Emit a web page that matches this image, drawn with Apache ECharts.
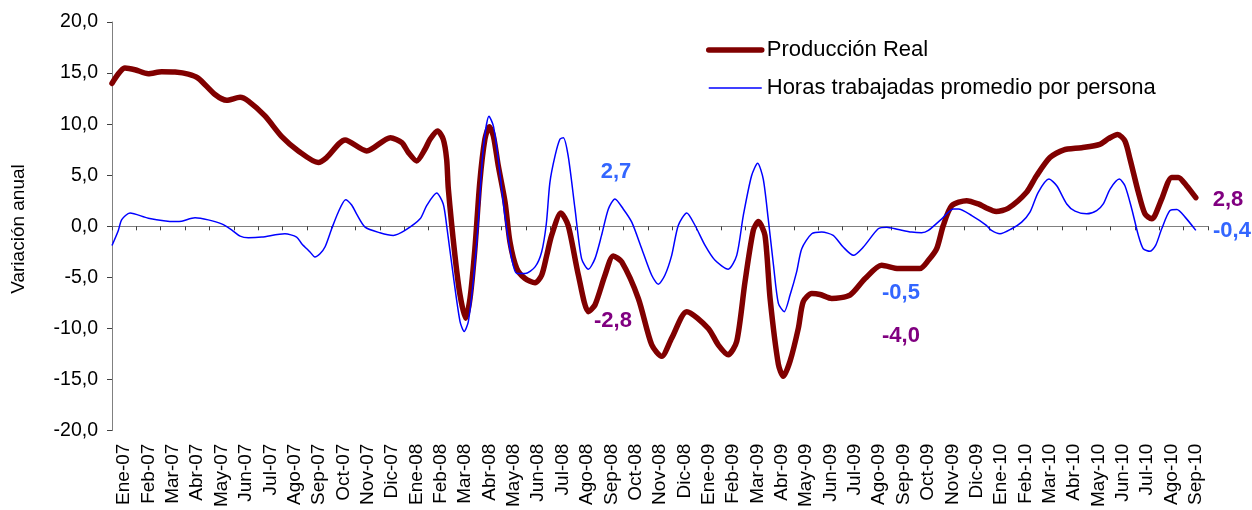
<!DOCTYPE html>
<html>
<head>
<meta charset="utf-8">
<script src="https://cdn.jsdelivr.net/npm/echarts@6/dist/echarts.min.js"></script>
<style>html,body{margin:0;padding:0;background:#fff}#c{width:1252px;height:510px}</style>
</head>
<body>
<div id="c"></div>
<script>
// Month categories (x-axis tick labels)
var months = ['Ene-07','Feb-07','Mar-07','Abr-07','May-07','Jun-07','Jul-07','Ago-07','Sep-07','Oct-07','Nov-07','Dic-07',
  'Ene-08','Feb-08','Mar-08','Abr-08','May-08','Jun-08','Jul-08','Ago-08','Sep-08','Oct-08','Nov-08','Dic-08',
  'Ene-09','Feb-09','Mar-09','Abr-09','May-09','Jun-09','Jul-09','Ago-09','Sep-09','Oct-09','Nov-09','Dic-09',
  'Ene-10','Feb-10','Mar-10','Abr-10','May-10','Jun-10','Jul-10','Ago-10','Sep-10'];

// Producción Real: time position (in months from Ene-07 start) and annual variation
var realT = [0,0.53,0.94,1.49,2.04,2.59,3.13,3.54,4.23,4.71,5.26,5.6,6.28,6.97,7.65,8.47,8.8,9.57,10.46,11.43,11.9,12.17,12.51,12.85,13.06,13.37,13.6,13.74,13.81,14.08,14.29,14.52,14.7,14.9,15.1,15.31,15.49,15.66,15.86,16.14,16.34,16.62,16.96,17.37,17.64,17.85,18.05,18.43,18.73,19.15,19.56,19.83,20.24,20.58,20.93,21.61,22.16,22.57,22.98,23.6,24.48,24.89,25.3,25.65,25.99,26.33,26.54,26.81,27.02,27.36,27.56,27.84,28.18,28.38,28.73,29.07,29.55,30.3,30.92,31.6,32.29,33.17,33.52,33.86,34.13,34.48,35.09,35.57,35.9,36.3,36.8,37.55,37.96,38.51,39.06,39.81,40.56,40.91,41.29,41.59,41.8,42.14,42.41,42.69,42.82,43.1,43.51,43.78,44.12,44.5];
var realV = [14.0,15.5,15.33,14.94,15.13,15.1,14.9,14.5,12.9,12.34,12.63,12.25,10.8,8.78,7.38,6.24,6.7,8.45,7.38,8.68,8.19,7.22,6.4,7.54,8.52,9.33,8.52,6.57,3.65,-2.84,-6.73,-9.0,-7.06,-2.19,4.3,8.52,9.75,8.84,5.92,2.35,-1.54,-4.14,-5.11,-5.53,-4.79,-2.84,-0.89,1.31,0.08,-4.79,-8.35,-7.7,-4.79,-2.9,-3.49,-7.06,-11.6,-12.73,-10.95,-8.35,-9.98,-11.6,-12.57,-11.27,-5.43,-0.4,0.47,-0.89,-7.06,-13.5,-14.68,-13.2,-9.98,-7.38,-6.57,-6.67,-7.06,-6.73,-5.11,-3.81,-4.14,-4.14,-3.33,-2.19,0.08,2.02,2.51,2.19,1.8,1.45,1.77,3.33,4.95,6.73,7.47,7.7,8.03,8.58,9.0,8.35,6.57,3.33,1.22,0.73,1.05,2.68,4.79,4.79,3.97,2.8];

// Horas trabajadas promedio por persona
var horasT = [0,0.26,0.4,0.74,1.49,2.58,2.86,3.41,3.95,4.5,4.91,5.26,5.6,6.15,7.1,7.58,7.79,8.13,8.33,8.54,8.75,9.02,9.29,9.59,9.84,10.04,10.39,11.0,11.55,12.03,12.65,12.92,13.33,13.6,13.74,14.01,14.29,14.46,14.63,14.83,15.04,15.24,15.48,15.66,15.86,16.13,16.41,16.62,16.96,17.37,17.64,17.83,17.98,18.19,18.39,18.53,18.73,19.01,19.28,19.56,19.83,20.1,20.38,20.65,20.99,21.34,21.75,22.16,22.43,22.7,22.98,23.25,23.6,23.94,24.35,24.76,25.3,25.65,25.92,26.26,26.51,26.74,26.94,27.16,27.36,27.6,27.84,28.11,28.32,28.73,29.14,29.61,30.02,30.44,30.85,31.46,31.81,32.29,32.83,33.24,33.52,34.07,34.54,34.75,35.3,35.9,36.11,36.46,36.94,37.35,37.69,38.03,38.47,38.79,39.2,39.54,40.02,40.43,40.7,40.98,41.36,41.59,41.87,42.14,42.34,42.62,42.85,43.1,43.44,43.72,44.06,44.5];
var horasV = [-1.87,-0.4,0.66,1.31,0.8,0.47,0.5,0.83,0.63,0.24,-0.34,-0.96,-1.12,-1.05,-0.73,-1.05,-1.7,-2.51,-3.0,-2.68,-2.0,-0.24,1.38,2.61,2.09,1.22,-0.08,-0.63,-0.89,-0.4,0.73,2.03,3.26,2.19,0.08,-4.79,-9.33,-10.3,-9.33,-5.43,0.41,7.54,10.78,9.81,6.57,1.05,-3.16,-4.62,-4.62,-3.97,-2.51,0.2,4.3,6.89,8.52,8.68,6.89,1.7,-3.16,-4.2,-3.16,-0.89,1.7,2.68,1.7,0.41,-2.19,-4.79,-5.66,-4.79,-2.84,0.08,1.31,0.08,-1.87,-3.33,-4.2,-2.84,1.05,4.95,6.18,4.62,0.8,-3.81,-7.54,-8.35,-6.73,-4.46,-2.19,-0.73,-0.56,-0.89,-2.03,-2.84,-2.03,-0.24,-0.08,-0.31,-0.56,-0.63,-0.4,0.73,1.7,1.7,1.05,0.1,-0.4,-0.73,-0.24,0.41,1.38,3.33,4.62,3.97,2.19,1.48,1.22,1.54,2.19,3.65,4.62,3.97,1.7,-0.89,-2.19,-2.45,-1.87,-0.24,1.54,1.64,0.9,-0.4];

// Y axis ticks
var yTicks = {min: -20, max: 20, step: 5};

function pairs(t, v) {
  var out = [];
  for (var i = 0; i < Math.min(t.length, v.length); i++) out.push([t[i], v[i]]);
  return out;
}

var FONT = '"Liberation Sans", Arial, sans-serif';
var chart = echarts.init(document.getElementById('c'));
chart.setOption({
  animation: false,
  backgroundColor: '#fff',
  grid: {left: 112, top: 22, width: 1096, height: 411, containLabel: false},
  legend: {
    orient: 'vertical', left: 706, top: 39, padding: 0,
    itemWidth: 53, itemHeight: 14, itemGap: 16,
    itemStyle: {color: 'rgba(0,0,0,0)', borderColor: 'rgba(0,0,0,0)', borderWidth: 0},
    textStyle: {fontSize: 22, fontFamily: FONT, color: '#000', lineHeight: 22},
    data: [
      {name: 'Producción Real', lineStyle: {width: 5.5, color: '#800000', cap: 'round'}},
      {name: 'Horas trabajadas promedio por persona', lineStyle: {width: 1.5, color: '#0000FF'}}
    ]
  },
  xAxis: [
    {
      type: 'category', data: months, boundaryGap: true, position: 'bottom',
      axisLine: {show: true, onZero: true, lineStyle: {color: '#808080', width: 1}},
      axisTick: {show: true, length: 4, interval: 0, lineStyle: {color: '#404040'}},
      axisLabel: {show: false}, splitLine: {show: false}
    },
    {
      type: 'category', data: months, boundaryGap: true, position: 'bottom',
      axisLine: {show: false, onZero: false}, axisTick: {show: false},
      axisLabel: {show: true, interval: 0, rotate: 90, margin: 13, fontSize: 19, fontFamily: FONT, color: '#000'},
      splitLine: {show: false}
    },
    {
      type: 'value', min: 0, max: months.length, show: false,
      axisLine: {onZero: false}, splitLine: {show: false}
    }
  ],
  yAxis: {
    type: 'value', min: yTicks.min, max: yTicks.max, interval: yTicks.step,
    axisLine: {show: true, onZero: false, lineStyle: {color: '#808080', width: 1}},
    axisTick: {show: true, length: 5, lineStyle: {color: '#404040'}},
    splitLine: {show: false},
    axisLabel: {
      margin: 14, fontSize: 19.5, fontFamily: FONT, color: '#000',
      formatter: function (v) { return v.toFixed(1).replace('.', ','); }
    }
  },
  series: [
    {
      name: 'Producción Real', type: 'line', xAxisIndex: 2, yAxisIndex: 0,
      data: pairs(realT, realV), symbol: 'none', smooth: 0.25,
      lineStyle: {color: '#800000', width: 5.5, cap: 'round', join: 'round'},
      itemStyle: {color: '#800000'}
    },
    {
      name: 'Horas trabajadas promedio por persona', type: 'line', xAxisIndex: 2, yAxisIndex: 0,
      data: pairs(horasT, horasV), symbol: 'none', smooth: 0.25,
      lineStyle: {color: '#0000FF', width: 1.5},
      itemStyle: {color: '#0000FF'}
    }
  ],
  graphic: [
    {type: 'text', x: 19, y: 229, rotation: Math.PI / 2,
     style: {text: 'Variación anual', font: '19px ' + FONT, fill: '#000', textAlign: 'center', textVerticalAlign: 'middle'}},
    {type: 'text', x: 616, y: 172, style: {text: '2,7', font: 'bold 22px ' + FONT, fill: '#3366FF', textAlign: 'center', textVerticalAlign: 'middle'}},
    {type: 'text', x: 613, y: 321, style: {text: '-2,8', font: 'bold 22px ' + FONT, fill: '#800080', textAlign: 'center', textVerticalAlign: 'middle'}},
    {type: 'text', x: 901, y: 293, style: {text: '-0,5', font: 'bold 22px ' + FONT, fill: '#3366FF', textAlign: 'center', textVerticalAlign: 'middle'}},
    {type: 'text', x: 901, y: 336, style: {text: '-4,0', font: 'bold 22px ' + FONT, fill: '#800080', textAlign: 'center', textVerticalAlign: 'middle'}},
    {type: 'text', x: 1228, y: 200, style: {text: '2,8', font: 'bold 22px ' + FONT, fill: '#800080', textAlign: 'center', textVerticalAlign: 'middle'}},
    {type: 'text', x: 1232, y: 231, style: {text: '-0,4', font: 'bold 22px ' + FONT, fill: '#3366FF', textAlign: 'center', textVerticalAlign: 'middle'}}
  ]
});
</script>
</body>
</html>
